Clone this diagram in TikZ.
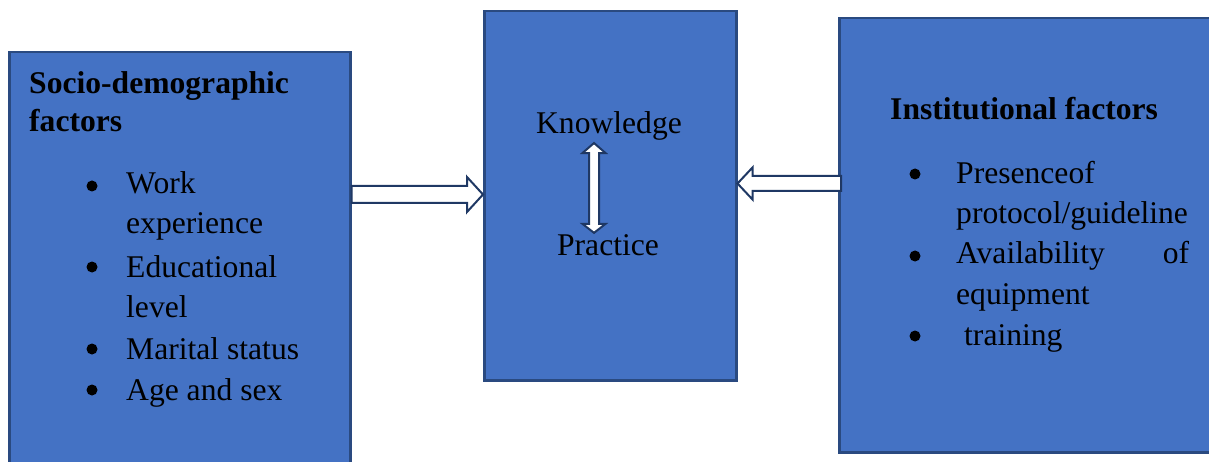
\documentclass[tikz,border=0pt]{standalone}
\usepackage{fontspec}
\setmainfont{Liberation Serif}
\usepackage{tikz}
\usetikzlibrary{calc,positioning}
\usepackage{xcolor}
\definecolor{boxblue}{HTML}{4472C4}
\definecolor{edge}{HTML}{2A4A80}
\definecolor{navy}{HTML}{1F3864}

\begin{document}
\begin{tikzpicture}[x=1pt,y=-1pt,
  panel/.style={draw=edge,fill=boxblue,line width=2.5pt,anchor=north west,inner sep=0pt},
  txt/.style={anchor=base west,inner sep=0pt,align=left,font=\fontsize{31.6}{40}\selectfont},
  head/.style={txt,font=\fontsize{31.6}{38}\selectfont\bfseries},
  label/.style={anchor=base,inner sep=0pt,font=\fontsize{31.6}{40}\selectfont},
  dot/.style={circle,fill=black,inner sep=0pt,minimum size=11pt},
  barrow/.style={draw=navy,fill=white,line width=2pt,line join=miter}]
  \useasboundingbox (0,0) rectangle (1209,462);
  % the three panels
  \node[panel,minimum width=341pt,minimum height=430pt] (soc) at (8,51) {};
  \node[panel,minimum width=252pt,minimum height=369pt] (mid) at (483,10) {};
  \node[panel,minimum width=400pt,minimum height=434pt] (inst) at (838,17) {};

  % socio-demographic factors (multi-line nodes sit on their last baseline)
  \node[head] (sochead) at (29,132) {Socio-demographic\\factors};
  \node[dot] (s1) at (92,186) {};
  \node[txt] (work) at (126,234) {Work\\experience};
  \node[dot] (s2) at (92,267) {};
  \node[txt] (edu) at (126,317) {Educational\\level};
  \node[dot] (s3) at (92,349) {};
  \node[txt] (marital) at (126,359) {Marital status};
  \node[dot] (s4) at (92,390) {};
  \node[txt] (age) at (126,400) {Age and sex};

  % knowledge and practice
  \node[label] (know) at (609,134) {Knowledge};
  \node[label] (prac) at (608,255) {Practice};

  % institutional factors
  \node[head] (insthead) at (890,120) {Institutional factors};
  \node[dot] (i1) at (915,174) {};
  \node[txt] (proto) at (956,224) {Presenceof\\protocol/guideline};
  \node[dot] (i2) at (915,256) {};
  \node[txt] (equip) at (956,304) {\makebox[233pt][s]{Availability of}\\equipment};
  \node[dot] (i3) at (915,336) {};
  \node[txt] (train) at (964,345) {training};

  % block arrows
  \coordinate (r1) at (soc.east |- 0,194.5);
  \coordinate (r2) at (mid.west |- 0,194.5);
  \draw[barrow] ($(r1)+(0,-8.5)$) -- ($(r2)+(-16,-8.5)$) -- ($(r2)+(-16,-17.5)$) -- (r2)
    -- ($(r2)+(-16,17.5)$) -- ($(r2)+(-16,8.5)$) -- ($(r1)+(0,8.5)$) -- cycle;
  \coordinate (l1) at (inst.west |- 0,183.5);
  \coordinate (l2) at (mid.east |- 0,183.5);
  \draw[barrow] ($(l1)+(3,-7.5)$) -- ($(l2)+(15,-7.5)$) -- ($(l2)+(15,-16)$) -- (l2)
    -- ($(l2)+(15,16)$) -- ($(l2)+(15,7.5)$) -- ($(l1)+(3,7.5)$) -- cycle;
  \coordinate (v1) at ($(know.south -| 594,0)+(0,2)$);
  \coordinate (v2) at ($(prac.north -| 594,0)+(0,-1)$);
  \draw[barrow] (v1) -- ($(v1)+(-11.5,10)$) -- ($(v1)+(-5,10)$) -- ($(v2)+(-5,-9)$)
    -- ($(v2)+(-11.5,-9)$) -- (v2) -- ($(v2)+(11.5,-9)$) -- ($(v2)+(5,-9)$)
    -- ($(v1)+(5,10)$) -- ($(v1)+(11.5,10)$) -- cycle;
\end{tikzpicture}
\end{document}
